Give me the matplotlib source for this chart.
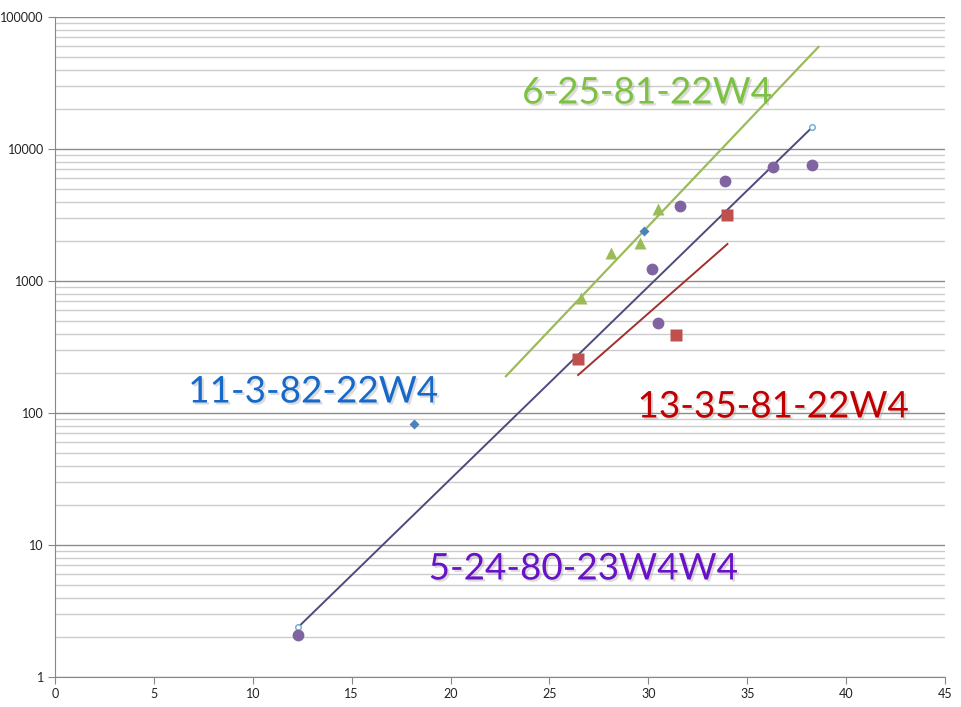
import matplotlib
matplotlib.use("Agg")
import matplotlib.pyplot as plt
import matplotlib.patheffects as pe
from matplotlib.ticker import LogLocator, FixedLocator, NullFormatter

# точки по скважинам
purple_x = [12.3, 30.5, 30.2, 31.6, 33.9, 36.3, 38.3]
purple_y = [2.08, 481, 1233, 3700, 5725, 7310, 7564]
green_x = [26.6, 28.1, 29.6, 30.5]
green_y = [743, 1630, 1941, 3510]
blue_x = [18.15, 29.8]
blue_y = [82.6, 2392]
red_x = [26.45, 31.4, 34.0]
red_y = [257, 390, 3160]

# линии тренда (концы)
purple_line_x = [12.3, 38.3]
purple_line_y = [2.39, 14680]
green_line_x = [22.8, 38.6]
green_line_y = [190, 59300]
red_line_x = [26.45, 34.0]
red_line_y = [194, 1906]

plt.rcParams['font.family'] = ['Lato', 'DejaVu Sans']

fig = plt.figure(figsize=(9.61, 7.07), dpi=100)
ax = fig.add_axes([55 / 961, 30 / 707, 890 / 961, 660 / 707])

ax.set_yscale("log")
ax.set_xlim(0, 45)
ax.set_ylim(1, 100000)

ax.yaxis.set_minor_locator(LogLocator(base=10, subs=range(2, 10), numticks=50))
ax.yaxis.set_minor_formatter(NullFormatter())
ax.xaxis.set_major_locator(FixedLocator(range(0, 46, 5)))
ax.set_yticks([1, 10, 100, 1000, 10000, 100000])
ax.set_yticklabels(["1", "10", "100", "1000", "10000", "100000"])

ax.grid(which="major", axis="y", color="#8c8c8c", lw=1.0)
ax.grid(which="minor", axis="y", color="#cccccc", lw=1.0)
ax.set_axisbelow(True)

for s in ["top", "right"]:
    ax.spines[s].set_visible(False)
for s in ["left", "bottom"]:
    ax.spines[s].set_color("#888888")
ax.tick_params(axis="both", which="major", direction="out", length=5, color="#888888",
               labelsize=9, labelcolor="#222222", pad=3)
ax.tick_params(axis="y", which="minor", length=0)

# линии
ax.plot(purple_line_x, purple_line_y, color="#4e4a7e", lw=1.4, marker="o", ms=4,
        mfc="white", mec="#6fa8d0", mew=1, zorder=3)
ax.plot(green_line_x, green_line_y, color="#9bbb59", lw=1.6, zorder=3)
ax.plot(red_line_x, red_line_y, color="#a3302e", lw=1.4, zorder=3)

# маркеры
ax.plot(purple_x, purple_y, "o", color="#8064a2", ms=8.5, mec="none", zorder=4)
ax.plot(green_x, green_y, "^", color="#9bbb59", ms=8.5, mec="none", zorder=4)
ax.plot(blue_x, blue_y, "D", color="#4f81bd", ms=5.5, mec="none", zorder=4)
ax.plot(red_x, red_y, "s", color="#c0504d", ms=8, mec="none", zorder=4)

shadow = [pe.SimplePatchShadow(offset=(1.5, -1.5), shadow_rgbFace="#999999", alpha=0.35), pe.Normal()]
lbl = dict(fontsize=26.5, ha="center", va="center", path_effects=shadow, zorder=5)
fig.text(647 / 961, 1 - 93 / 707, "6-25-81-22W4", color="#7dc142", **lbl)
fig.text(313 / 961, 1 - 392 / 707, "11-3-82-22W4", color="#1669c9", **lbl)
fig.text(773 / 961, 1 - 407 / 707, "13-35-81-22W4", color="#c00000", **lbl)
fig.text(583 / 961, 1 - 569 / 707, "5-24-80-23W4W4", color="#6a12c8", **lbl)

fig.savefig("out.png", dpi=100)
